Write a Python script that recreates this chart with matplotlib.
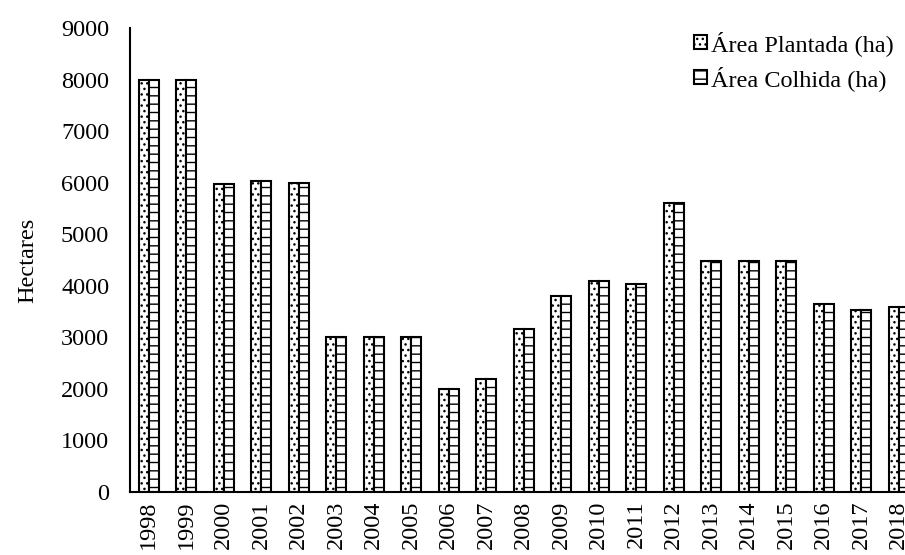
import matplotlib

matplotlib.use("Agg")

import matplotlib.pyplot as plt
import numpy as np

years = [str(y) for y in range(1998, 2019)]
area_plantada = [8000, 8000, 5980, 6030, 6000, 3000, 3000, 3000, 2000, 2200, 3170,
                 3800, 4090, 4040, 5600, 4480, 4480, 4480, 3640, 3530, 3580]
area_colhida = [8000, 8000, 5980, 6030, 6000, 3000, 3000, 3000, 2000, 2200, 3170,
                3800, 4090, 4040, 5600, 4480, 4480, 4480, 3640, 3530, 3580]

plt.rcParams["font.family"] = ["Liberation Serif", "DejaVu Serif"]
plt.rcParams["hatch.linewidth"] = 1.0

fig = plt.figure(figsize=(9.05, 5.55), dpi=100)
ax = fig.add_axes([130 / 905, 63 / 555, 787.5 / 905, 464 / 555])

x = np.arange(len(years))
w = 0.27
ax.bar(x - w / 2, area_plantada, width=w, color="white", edgecolor="black",
       linewidth=1.5, hatch="...", label="Área Plantada (ha)")
ax.bar(x + w / 2, area_colhida, width=w, color="white", edgecolor="black",
       linewidth=1.5, hatch="--", label="Área Colhida (ha)")

ax.set_xlim(-0.5, len(years) - 0.5)
ax.set_ylim(0, 9000)
ax.set_yticks(range(0, 9001, 1000))
ax.set_xticks(x)
ax.set_xticklabels(years, rotation=90)
ax.tick_params(axis="both", length=0, labelsize=17.5)
ax.tick_params(axis="y", pad=15)
ax.tick_params(axis="x", pad=6)
ax.set_ylabel("Hectares", fontsize=17.5, labelpad=16)

for side in ("top", "right"):
    ax.spines[side].set_visible(False)
for side in ("left", "bottom"):
    ax.spines[side].set_linewidth(1.5)

ax.legend(loc="upper right", bbox_to_anchor=(916 / 905, 546 / 555),
          bbox_transform=fig.transFigure, frameon=False, fontsize=17.5,
          handlelength=0.5, handleheight=0.5, handletextpad=0.2,
          labelspacing=0.4)

fig.savefig("out.png", dpi=100)
